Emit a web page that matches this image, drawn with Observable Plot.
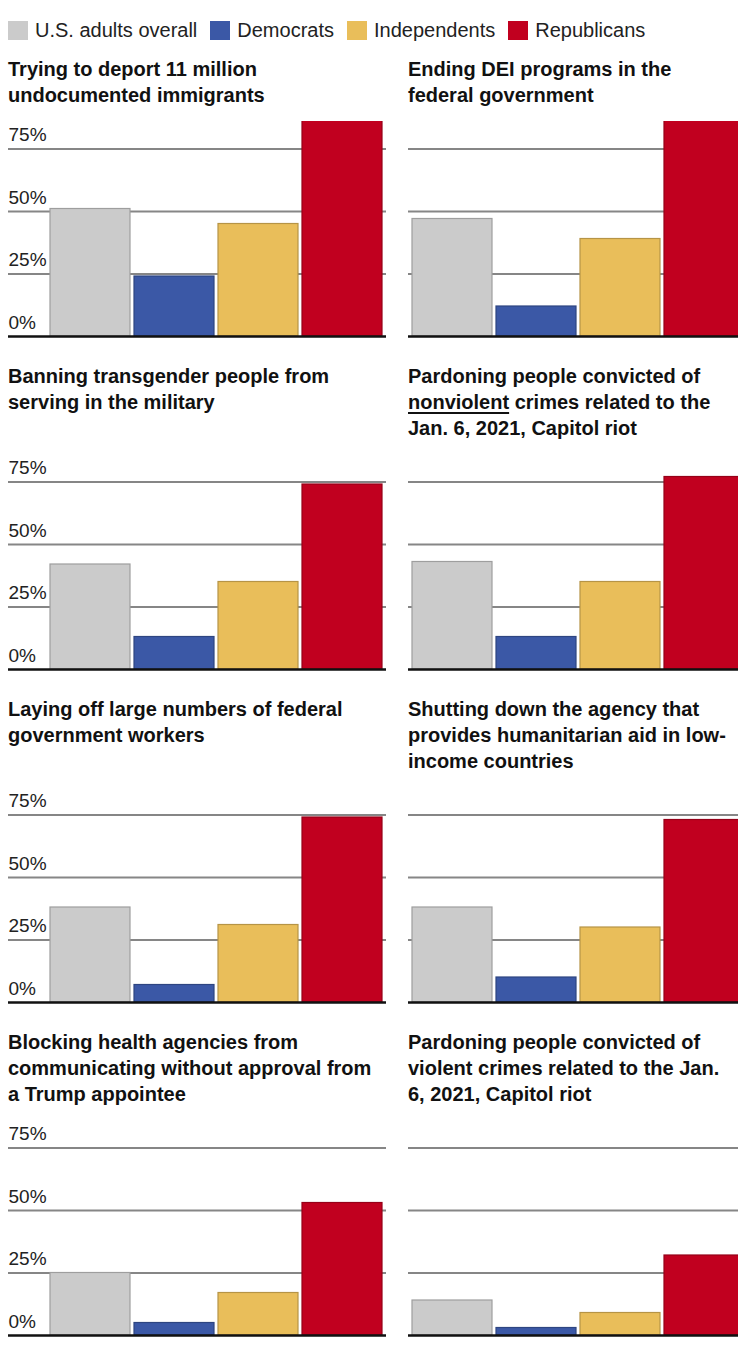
<!DOCTYPE html>
<html>
<head>
<meta charset="utf-8">
<script src="https://cdn.jsdelivr.net/npm/d3@7"></script>
<script src="https://cdn.jsdelivr.net/npm/@observablehq/plot@0.6"></script>
<style>
  html, body { margin: 0; padding: 0; background: #fff; overflow: hidden; width: 738px; }
  body { font-family: "Liberation Sans", Arial, sans-serif; color: #111; }
  #legend { display: flex; align-items: center; height: 20px; margin-top: 20px; padding-left: 8px; font-size: 20px; color: #222; white-space: nowrap; }
  #legend .item { display: flex; align-items: center; margin-right: 13px; }
  #legend .sw { width: 20px; height: 19px; margin-right: 7px; }
  #grid { display: grid; grid-template-columns: 398px 360px; width: 758px; margin-top: 16px; }
  .title { font-weight: bold; font-size: 20px; line-height: 26px; padding-bottom: 13px; }
  .title.l { padding-left: 8px; }
  .title.r { padding-left: 10px; }
  .title.later { padding-top: 17px; }
  .title u { text-decoration-thickness: 1.5px; text-underline-offset: 3px; }
  .chart svg { display: block; }
</style>
</head>
<body>
<div id="legend"></div>
<div id="grid"></div>
<script>
// ---- data ----
const groups = ["U.S. adults overall", "Democrats", "Independents", "Republicans"];
const colors = ["#cbcbcb", "#3b58a6", "#e9be5a", "#c1001f"];
const titles = [
  ["Trying to deport 11 million", "undocumented immigrants"],
  ["Ending DEI programs in the", "federal government"],
  ["Banning transgender people from", "serving in the military"],
  ["Pardoning people convicted of", "_nonviolent_ crimes related to the", "Jan. 6, 2021, Capitol riot"],
  ["Laying off large numbers of federal", "government workers"],
  ["Shutting down the agency that", "provides humanitarian aid in low-", "income countries"],
  ["Blocking health agencies from", "communicating without approval from", "a Trump appointee"],
  ["Pardoning people convicted of", "violent crimes related to the Jan.", "6, 2021, Capitol riot"]
];
const overall      = [51, 47, 42, 43, 38, 38, 25, 14];
const democrats    = [24, 12, 13, 13,  7, 10,  5,  3];
const independents = [45, 39, 35, 35, 31, 30, 17,  9];
const republicans  = [88, 88, 74, 77, 74, 73, 53, 32];
const yTicks = [0, 25, 50, 75];
const yMax = 86;

const series = [overall, democrats, independents, republicans];

// ---- legend ----
const legend = document.getElementById("legend");
groups.forEach((g, j) => {
  const it = document.createElement("div");
  it.className = "item";
  const sw = document.createElement("div");
  sw.className = "sw";
  sw.style.background = colors[j];
  const tx = document.createElement("span");
  tx.textContent = g;
  it.append(sw, tx);
  legend.append(it);
});

// ---- panels ----
const font = "'Liberation Sans', Arial, sans-serif";
function panel(i, left) {
  const data = groups.map((g, j) => ({group: g, value: series[j][i]}));
  const ml = left ? 44 : 8;
  const width = left ? 398 : 360;
  const insetL = left ? -36 : 2;
  const insetR = left ? 2 : -20;
  const marks = [
    Plot.ruleY(yTicks.filter(d => d > 0), {stroke: "#868686", strokeWidth: 2.2, insetLeft: insetL, insetRight: insetR}),
    Plot.barY(data, {
      x: "group", y: "value", fill: "group", clip: true,
      stroke: d => d3.color(colors[groups.indexOf(d.group)]).darker(0.7).formatHex(),
      strokeWidth: 1.2
    }),
    Plot.ruleY([0], {stroke: "#111", strokeWidth: 2.5, insetLeft: insetL, insetRight: insetR})
  ];
  if (left) {
    marks.push(Plot.text(yTicks, {
      y: d => d, text: d => `${d}%`, frameAnchor: "left", textAnchor: "start",
      lineAnchor: "bottom", dx: -36, dy: -8, fontSize: 19, fill: "#222", fontFamily: font
    }));
  }
  return Plot.plot({
    width, height: 225,
    marginTop: 0, marginBottom: 10, marginLeft: ml, marginRight: left ? 10 : 8,
    style: {fontFamily: font, background: "transparent", overflow: "visible"},
    x: {domain: groups, padding: 0.05, axis: null},
    y: {domain: [0, yMax], axis: null},
    color: {domain: groups, range: colors},
    marks
  });
}

const grid = document.getElementById("grid");
for (let r = 0; r < 4; r++) {
  for (let c = 0; c < 2; c++) {
    const i = r * 2 + c;
    const t = document.createElement("div");
    t.className = "title " + (c === 0 ? "l" : "r") + (r > 0 ? " later" : "");
    t.innerHTML = titles[i].map(line => line.replace(/_([^_]+)_/g, "<u>$1</u>")).join("<br>");
    grid.append(t);
  }
  for (let c = 0; c < 2; c++) {
    const i = r * 2 + c;
    const d = document.createElement("div");
    d.className = "chart";
    d.append(panel(i, c === 0));
    grid.append(d);
  }
}
</script>
</body>
</html>
